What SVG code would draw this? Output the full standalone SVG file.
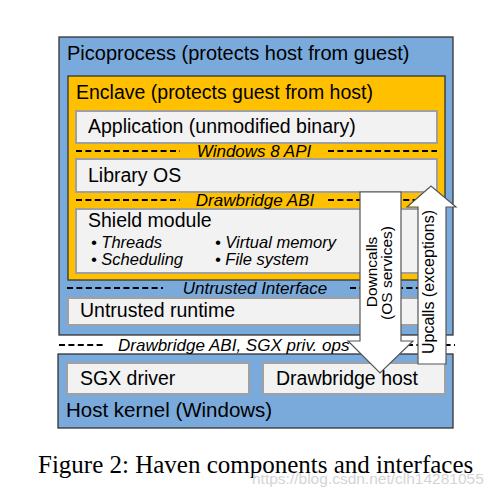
<svg xmlns="http://www.w3.org/2000/svg" width="499" height="501" viewBox="0 0 499 501">
<style>
.bg{fill:#ffffff}
.blue{fill:#7aaadb;stroke:#333;stroke-width:1.3}
.orange{fill:#ffc000;stroke:#333;stroke-width:1.3}
.gray{fill:#f2f2f2;stroke:#a0a0a0;stroke-width:2}
.lbl{font-family:"Liberation Sans",Arial,sans-serif;font-size:19.5px;fill:#000}
.it{font-family:"Liberation Sans",Arial,sans-serif;font-size:17px;font-style:italic;fill:#000}
.bul{font-family:"Liberation Sans",Arial,sans-serif;font-size:16.5px;font-style:italic;fill:#000}
.dash{stroke:#000;stroke-width:2.2;stroke-dasharray:6 3.4;fill:none}
.arrow{fill:#ffffff;stroke:#555;stroke-width:1.2}
.arr{font-family:"Liberation Sans",Arial,sans-serif;font-size:15.5px;fill:#000}
.cap{font-family:"Liberation Serif","Times New Roman",serif;font-size:25px;fill:#000}
.wm{font-family:"Liberation Sans",Arial,sans-serif;font-size:15.5px;fill:#d4d4d4}
</style>
<rect class="bg" x="0" y="0" width="499" height="501"/>
<g id="picoprocess">
<rect class="blue" x="59" y="37" width="394" height="298"/>
<text class="lbl" x="67" y="60" style="font-size:20px">Picoprocess (protects host from guest)</text>
</g>
<g id="enclave">
<rect class="orange" x="68" y="76" width="377" height="204"/>
<text class="lbl" x="76" y="99">Enclave (protects guest from host)</text>
</g>
<g id="application">
<rect class="gray" x="76" y="111" width="361" height="32"/>
<text class="lbl" x="88" y="133">Application (unmodified binary)</text>
</g>
<g id="libraryos">
<rect class="gray" x="76" y="159" width="361" height="33"/>
<text class="lbl" x="88" y="182">Library OS</text>
</g>
<g id="shield">
<rect class="gray" x="76" y="209" width="361" height="64"/>
<text class="lbl" x="88" y="227">Shield module</text>
<text class="bul" x="91" y="248">• Threads</text>
<text class="bul" x="91" y="265">• Scheduling</text>
<text class="bul" x="215" y="248">• Virtual memory</text>
<text class="bul" x="215" y="265">• File system</text>
</g>
<g id="runtime">
<rect class="gray" x="68" y="298" width="377" height="27"/>
<text class="lbl" x="80" y="317">Untrusted runtime</text>
</g>
<g id="hostkernel">
<rect class="blue" x="58" y="354" width="395" height="74"/>
<text class="lbl" x="66" y="417" style="font-size:20.5px">Host kernel (Windows)</text>
</g>
<g id="sgxdriver">
<rect class="gray" x="67" y="363" width="182" height="31"/>
<text class="lbl" x="80" y="385">SGX driver</text>
</g>
<g id="drawbridgehost">
<rect class="gray" x="263" y="363" width="182" height="31"/>
<text class="lbl" x="276" y="385">Drawbridge host</text>
</g>
<g id="interfaces">
<line class="dash" x1="76" y1="151" x2="180" y2="151"/>
<line class="dash" x1="328" y1="151" x2="437" y2="151"/>
<text class="it" x="254" y="157" text-anchor="middle">Windows 8 API</text>
<line class="dash" x1="76" y1="200" x2="180" y2="200"/>
<line class="dash" x1="328" y1="200" x2="437" y2="200"/>
<text class="it" x="255" y="206" text-anchor="middle">Drawbridge ABI</text>
<line class="dash" x1="67" y1="288" x2="163" y2="288"/>
<line class="dash" x1="350" y1="288" x2="445" y2="288"/>
<text class="it" x="255" y="294" text-anchor="middle">Untrusted Interface</text>
<line class="dash" x1="59" y1="345" x2="103" y2="345"/>
<line class="dash" x1="360" y1="345" x2="455" y2="345"/>
<text class="it" x="118" y="351">Drawbridge ABI, SGX priv. ops</text>
</g>
<g id="connectors">
<g id="downcalls">
<polygon class="arrow" points="360,192 401,192 401,341 413,341 380,373 348,341 360,341"/>
<text class="arr" transform="translate(377,272) rotate(-90)" text-anchor="middle">Downcalls</text>
<text class="arr" transform="translate(392,273) rotate(-90)" text-anchor="middle">(OS services)</text>
</g>
<g id="upcalls">
<polygon class="arrow" points="418,364 446,364 446,207 456,207 431,186 407,207 418,207"/>
<text class="arr" transform="translate(434,282) rotate(-90)" text-anchor="middle" style="font-size:16px">Upcalls (exceptions)</text>
</g>
</g>
<text class="cap" x="38" y="473">Figure 2: Haven components and interfaces</text>
<text class="wm" x="252" y="484">https://blog.csdn.net/clh14281055</text>
</svg>
